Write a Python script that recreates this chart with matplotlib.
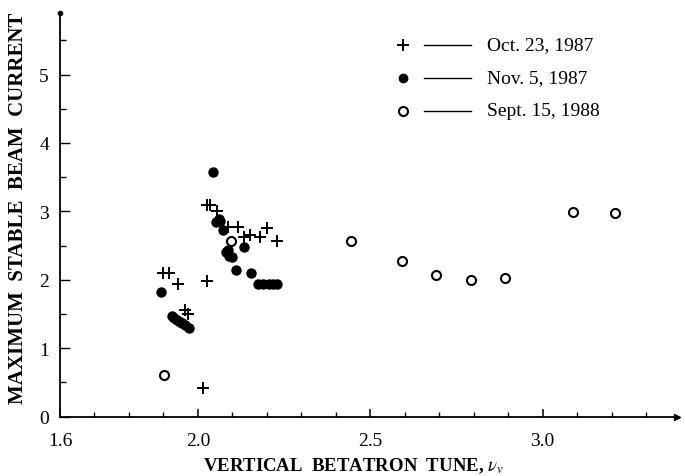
import matplotlib
matplotlib.use("Agg")
import matplotlib.pyplot as plt
from matplotlib.ticker import MultipleLocator, FixedLocator

plt.rcParams['font.family'] = ['Liberation Serif', 'DejaVu Serif']
plt.rcParams['mathtext.fontset'] = 'stix'

# Oct. 23, 1987 (plus markers)
oct_x = [1.899, 1.916, 1.942, 2.026, 1.962, 1.971, 2.015, 2.026, 2.036, 2.056,
         2.087, 2.116, 2.135, 2.150, 2.179, 2.200, 2.229]
oct_y = [2.10, 2.10, 1.94, 1.98, 1.56, 1.50, 0.41, 3.09, 3.09, 3.00,
         2.77, 2.77, 2.63, 2.65, 2.63, 2.76, 2.57]

# Nov. 5, 1987 (filled dots)
nov_x = [1.894, 1.925, 1.932, 1.940, 1.948, 1.955, 1.962, 1.975,
         2.044, 2.054, 2.060, 2.064, 2.072, 2.082, 2.088, 2.091, 2.100,
         2.111, 2.135, 2.155, 2.175, 2.190, 2.205, 2.218, 2.230]
nov_y = [1.82, 1.47, 1.44, 1.41, 1.38, 1.36, 1.34, 1.29,
         3.58, 2.84, 2.89, 2.86, 2.73, 2.40, 2.43, 2.35, 2.33,
         2.14, 2.48, 2.10, 1.94, 1.94, 1.94, 1.94, 1.94]

# Sept. 15, 1988 (open circles)
sep_x = [1.901, 2.097, 2.444, 2.592, 2.690, 2.793, 2.890, 3.088, 3.210]
sep_y = [0.61, 2.57, 2.57, 2.27, 2.07, 1.99, 2.02, 2.99, 2.98]

legend_labels = ["Oct. 23, 1987", "Nov. 5, 1987", "Sept. 15, 1988"]
x_ticks = [1.6, 2.0, 2.5, 3.0]
x_ticklabels = ["1.6", "2.0", "2.5", "3.0"]
y_ticks = [0, 1, 2, 3, 4, 5]

W, H = 685, 477
fig = plt.figure(figsize=(W / 100, H / 100), dpi=100)
x0, y0, x1, y1 = 60, 417.5, 677, 14
ax = fig.add_axes([x0 / W, (H - y0) / H, (x1 - x0) / W, (y0 - y1) / H])
ax.set_xlim(1.6, 3.39)
ax.set_ylim(0, 5.9)

for s in ['top', 'right']:
    ax.spines[s].set_visible(False)
for s in ['left', 'bottom']:
    ax.spines[s].set_linewidth(1.3)

ax.xaxis.set_major_locator(FixedLocator(x_ticks))
ax.set_xticklabels(x_ticklabels)
ax.xaxis.set_minor_locator(MultipleLocator(0.1))
ax.yaxis.set_major_locator(FixedLocator(y_ticks))
ax.yaxis.set_minor_locator(MultipleLocator(0.5))
ax.tick_params(axis='x', which='major', direction='in', length=6, width=1.1, pad=11, labelsize=14)
ax.tick_params(axis='x', which='minor', direction='in', length=3.5, width=1.0)
ax.tick_params(axis='y', which='major', direction='in', length=7, width=1.0, pad=8, labelsize=14)
ax.tick_params(axis='y', which='minor', direction='in', length=4.5, width=1.0)

ax.plot(1, 0, '>', color='black', ms=5, transform=ax.transAxes, clip_on=False)
ax.plot(0, 1, 'o', color='black', ms=3, transform=ax.transAxes, clip_on=False)

ax.plot(oct_x, oct_y, '+', color='black', ms=8, mew=1.4, linestyle='none', clip_on=False)
ax.plot(nov_x, nov_y, 'o', color='black', ms=6.5, linestyle='none', clip_on=False)
ax.plot(sep_x, sep_y, 'o', mfc='white', mec='black', ms=6.5, mew=1.5, linestyle='none', clip_on=False)

# legend drawn manually in figure pixel space
def fx(px):
    return px / W
def fy(py):
    return (H - py) / H

rows = [46, 79, 112]
styles = [dict(marker='+', color='black', ms=8, mew=1.4),
          dict(marker='o', color='black', ms=6),
          dict(marker='o', mfc='white', mec='black', ms=6.5, mew=1.5)]
for py, lab, st in zip(rows, legend_labels, styles):
    fig.lines.append(plt.Line2D([fx(403)], [fy(py)], linestyle='none', transform=fig.transFigure, **st))
    fig.lines.append(plt.Line2D([fx(424), fx(471)], [fy(py), fy(py)], color='black', lw=1.0,
                                transform=fig.transFigure))
    fig.text(fx(487), fy(py), lab, fontsize=14, va='center', ha='left')

fig.text(fx(18), fy(208), "MAXIMUM  STABLE  BEAM  CURRENT", rotation=90, fontsize=15,
         fontweight='bold', va='center', ha='center')
fig.text(fx(353), fy(466), r"VERTICAL  BETATRON  TUNE, $\nu_v$", fontsize=13.5,
         fontweight='bold', va='center', ha='center')

fig.savefig("out.png", dpi=100)
